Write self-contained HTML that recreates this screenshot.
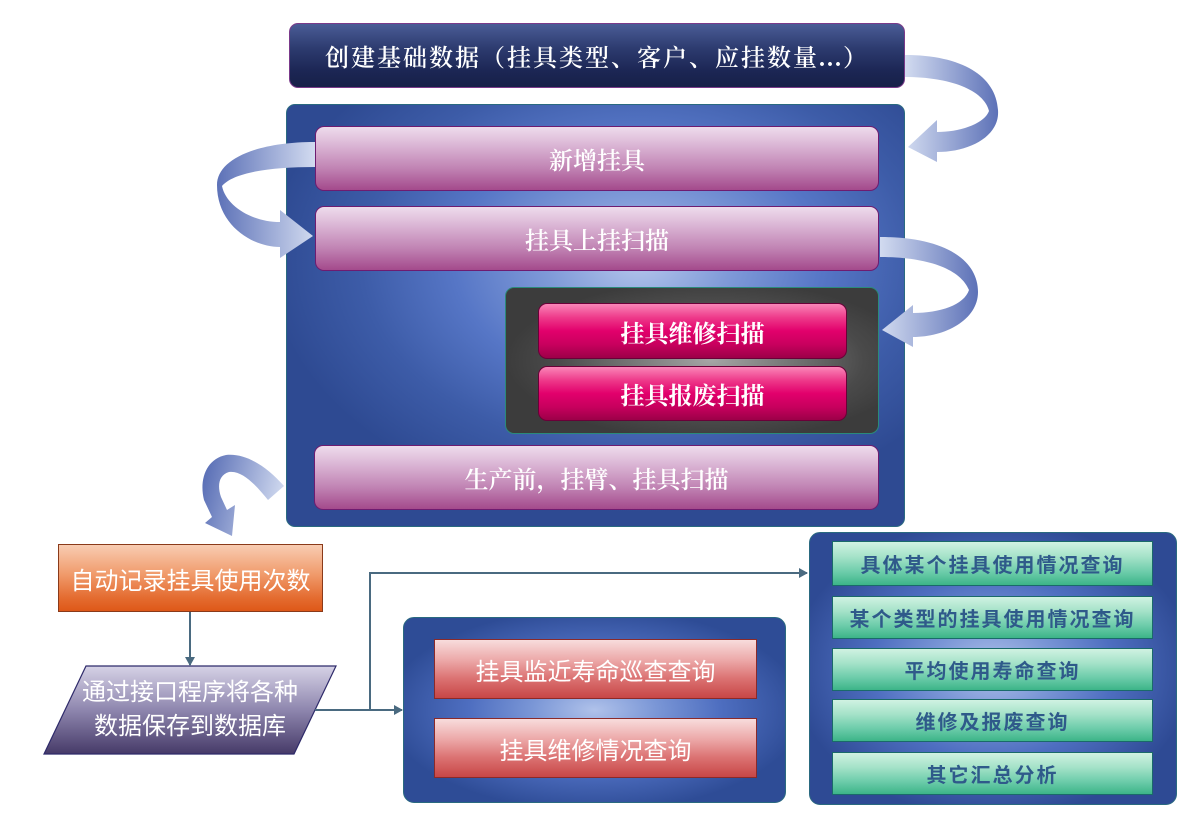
<!DOCTYPE html>
<html>
<head>
<meta charset="utf-8">
<style>
  html,body{margin:0;padding:0;}
  body{width:1188px;height:840px;position:relative;overflow:hidden;background:#ffffff;
       font-family:"Liberation Serif","Noto Serif CJK SC",serif;}
  .box{position:absolute;box-sizing:border-box;display:flex;align-items:center;justify-content:center;white-space:nowrap;}
  .top{left:289px;top:23px;width:616px;height:65px;border-radius:9px;border:1px solid #7a3a8a;
       background:linear-gradient(to bottom,#4a5c96 0%,#2c3a6e 40%,#1c2654 75%,#172048 100%);
       color:#fff;font-family:"Liberation Serif","Noto Serif CJK SC",serif;font-weight:600;font-size:24px;letter-spacing:2px;}
  .big{left:286px;top:104px;width:619px;height:423px;border-radius:9px;border:1px solid #2a6a80;
       background:radial-gradient(ellipse 60% 60% at 57% 37%,#b4c6ec 0%,#7f9ad8 25%,#5676c6 50%,#3d5ca8 75%,#2e4a92 100%);}
  .pink{left:315px;width:564px;height:65px;border-radius:9px;border:1.5px solid #6e1c70;
        background:linear-gradient(to bottom,#eedcec 0%,#dab4d4 30%,#c184b4 65%,#a44a8c 100%);
        color:#fff;font-family:"Liberation Serif","Noto Serif CJK SC",serif;font-size:24px;font-weight:600;}
  .dark{left:505px;top:287px;width:374px;height:147px;border-radius:9px;border:1px solid #2a8a7a;
        background:radial-gradient(ellipse 55% 55% at 55% 50%,#a6a6a6 0%,#747474 40%,#4a4a4a 75%,#3c3c3c 100%);}
  .mag{left:538px;width:309px;border-radius:9px;border:1px solid #6a0038;
       background:linear-gradient(to bottom,#fa86b8 0%,#ee3a8a 25%,#e2006c 50%,#c8005e 75%,#9c0048 100%);
       color:#fff;font-family:"Liberation Serif","Noto Serif CJK SC",serif;font-size:24px;font-weight:700;}
  .orange{left:58px;top:544px;width:265px;height:68px;border:1px solid #8a3a1a;
          background:linear-gradient(to bottom,#f8ccb2 0%,#f09a6a 45%,#e46c30 80%,#de5818 100%);
          color:#fff;font-family:"Liberation Sans","Noto Sans CJK SC",sans-serif;font-size:24px;}
  .mid{left:403px;top:617px;width:383px;height:186px;border-radius:11px;border:1px solid #2a6a80;
       background:radial-gradient(ellipse 55% 55% at 50% 50%,#b0c2ea 0%,#7a96d6 30%,#4e6ec0 60%,#2e4c96 100%);}
  .red{left:434px;width:323px;height:60px;border:1px solid #8a2a2a;
       background:linear-gradient(to bottom,#f8dcdc 0%,#eca8a8 35%,#dc7474 65%,#c84646 100%);
       color:#fff;font-family:"Liberation Sans","Noto Sans CJK SC",sans-serif;font-size:24px;}
  .right{left:809px;top:532px;width:368px;height:273px;border-radius:11px;border:1px solid #2a6a80;
         background:radial-gradient(ellipse 55% 55% at 50% 50%,#b0c2ea 0%,#7a96d6 30%,#4e6ec0 60%,#2e4a94 100%);}
  .green{left:832px;width:321px;border:1px solid #1a6a6a;
         background:linear-gradient(to bottom,#d0f2e2 0%,#a4e2c8 35%,#6cccaa 70%,#3cb488 100%);
         color:#2f5a8a;font-family:"Liberation Sans","Noto Sans CJK SC",sans-serif;font-size:20px;font-weight:700;letter-spacing:2px;}
  .para{position:absolute;left:44px;top:666px;width:292px;height:88px;display:flex;flex-direction:column;align-items:center;justify-content:center;
        color:#fff;font-family:"Liberation Sans","Noto Sans CJK SC",sans-serif;font-size:24px;line-height:34px;}
  svg{position:absolute;left:0;top:0;}
</style>
</head>
<body>

<div class="box top">创建基础数据（挂具类型、客户、应挂数量...）</div>

<div class="box big"></div>
<div class="box pink" style="top:126px;">新增挂具</div>
<div class="box pink" style="top:206px;">挂具上挂扫描</div>
<div class="box dark"></div>
<div class="box mag" style="top:303px;height:56px;">挂具维修扫描</div>
<div class="box mag" style="top:366px;height:55px;">挂具报废扫描</div>
<div class="box pink" style="top:445px;left:314px;width:565px;">生产前，挂臂、挂具扫描</div>

<div class="box orange">自动记录挂具使用次数</div>

<div class="box mid"></div>
<div class="box red" style="top:639px;">挂具监近寿命巡查查询</div>
<div class="box red" style="top:718px;">挂具维修情况查询</div>

<div class="box right"></div>
<div class="box green" style="top:541px;height:45px;">具体某个挂具使用情况查询</div>
<div class="box green" style="top:596px;height:43px;">某个类型的挂具使用情况查询</div>
<div class="box green" style="top:648px;height:43px;">平均使用寿命查询</div>
<div class="box green" style="top:699px;height:43px;">维修及报废查询</div>
<div class="box green" style="top:752px;height:43px;">其它汇总分析</div>

<svg width="1188" height="840" viewBox="0 0 1188 840" xmlns="http://www.w3.org/2000/svg">
  <defs>
    <linearGradient id="g1" x1="905" y1="0" x2="1000" y2="0" gradientUnits="userSpaceOnUse">
      <stop offset="0" stop-color="#d2dbf0"/>
      <stop offset="1" stop-color="#5a6fb6"/>
    </linearGradient>
    <linearGradient id="g2" x1="315" y1="0" x2="215" y2="0" gradientUnits="userSpaceOnUse">
      <stop offset="0" stop-color="#d2dbf0"/>
      <stop offset="1" stop-color="#5a6fb6"/>
    </linearGradient>
    <linearGradient id="g3" x1="880" y1="0" x2="980" y2="0" gradientUnits="userSpaceOnUse">
      <stop offset="0" stop-color="#d2dbf0"/>
      <stop offset="1" stop-color="#5a6fb6"/>
    </linearGradient>
    <linearGradient id="g4" x1="285" y1="490" x2="205" y2="470" gradientUnits="userSpaceOnUse">
      <stop offset="0" stop-color="#d2dbf0"/>
      <stop offset="1" stop-color="#5a6fb6"/>
    </linearGradient>
    <linearGradient id="gp" x1="0" y1="666" x2="0" y2="754" gradientUnits="userSpaceOnUse">
      <stop offset="0" stop-color="#d6d2e6"/>
      <stop offset="0.5" stop-color="#8e86ae"/>
      <stop offset="1" stop-color="#463a68"/>
    </linearGradient>
    <marker id="ah" markerWidth="10" markerHeight="10" refX="8" refY="5" orient="auto" markerUnits="userSpaceOnUse">
      <path d="M0,0 L9,5 L0,10 Z" fill="#4a6a80"/>
    </marker>
  </defs>

  <path d="M905,55 C962,55 996,76 998,110 C1000,136 970,152 937,152 L937,162 L908,147 L937,120 L937,132 C960,132 984,124 989,111 C984,90 950,77 905,77 Z" fill="url(#g1)"/>

  <path d="M315,142 C255,142 217,160 217,185 C217,225 252,247 280,247 L280,258 L313,236 L280,210 L280,222 C252,222 226,206 222,186 C234,172 272,167 315,167 Z" fill="url(#g2)"/>

  <path d="M880,237 C945,237 978,260 978,292 C978,320 945,337 913,337 L913,347 L882,330 L913,305 L913,313 C940,313 964,305 969,290 C960,268 925,257 880,257 Z" fill="url(#g3)"/>

  <path d="M284,486 C266,466 246,453 226,455 C206,459 199,480 204,500 L212,517 L205,523 L232,536 L235,505 L227,510 L221,497 C217,485 219,475 229,472 C242,470 256,485 268,500 Z" fill="url(#g4)"/>

  <polygon points="86,666 336,666 294,754 44,754" fill="url(#gp)" stroke="#2e2a6a" stroke-width="1.2"/>

  <line x1="190" y1="612" x2="190" y2="665" stroke="#4a6a80" stroke-width="2" marker-end="url(#ah)"/>
  <line x1="315" y1="710" x2="402" y2="710" stroke="#4a6a80" stroke-width="2" marker-end="url(#ah)"/>
  <polyline points="370,710 370,573 807,573" fill="none" stroke="#4a6a80" stroke-width="2" marker-end="url(#ah)"/>
</svg>

<div class="para"><div>通过接口程序将各种</div><div>数据保存到数据库</div></div>

</body>
</html>
